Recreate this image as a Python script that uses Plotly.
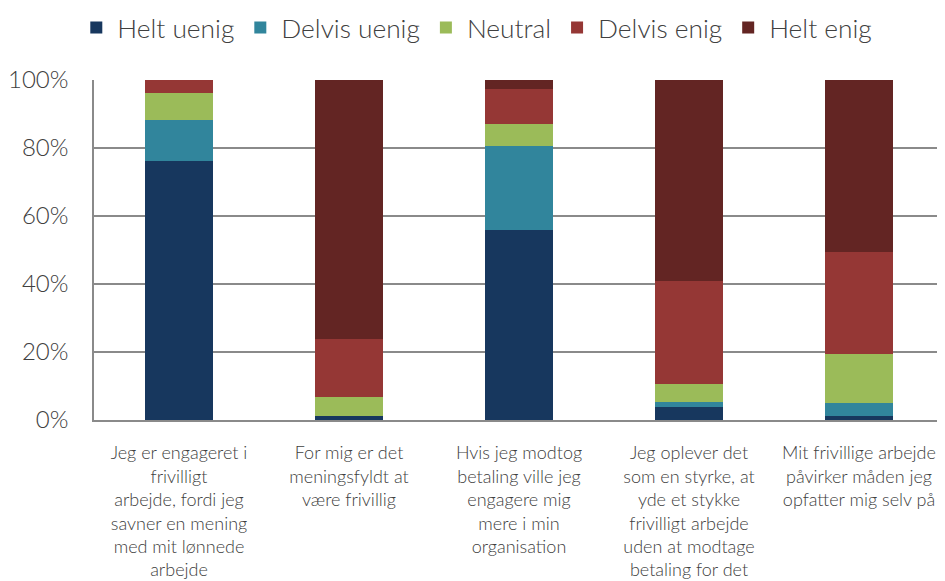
import plotly.graph_objects as go

categories = [
    "Jeg er engageret i<br>frivilligt<br>arbejde, fordi jeg<br>savner en mening<br>med mit lønnede<br>arbejde",
    "For mig er det<br>meningsfyldt at<br>være frivillig",
    "Hvis jeg modtog<br>betaling ville jeg<br>engagere mig<br>mere i min<br>organisation",
    "Jeg oplever det<br>som en styrke, at<br>yde et stykke<br>frivilligt arbejde<br>uden at modtage<br>betaling for det",
    "Mit frivillige arbejde<br>påvirker måden jeg<br>opfatter mig selv på",
]

helt_uenig = [76.2, 1.2, 55.9, 3.8, 1.2]
delvis_uenig = [11.9, 0.0, 24.6, 1.5, 3.9]
neutral = [8.0, 5.5, 6.6, 5.3, 14.4]
delvis_enig = [3.9, 17.0, 10.4, 30.2, 29.8]
helt_enig = [0.0, 76.3, 2.5, 59.2, 50.7]

series_names = ["Helt uenig", "Delvis uenig", "Neutral", "Delvis enig", "Helt enig"]
series_values = [helt_uenig, delvis_uenig, neutral, delvis_enig, helt_enig]
colors = ["#17375E", "#31859C", "#9BBB59", "#953735", "#632523"]
ytick_vals = [0, 0.2, 0.4, 0.6, 0.8, 1.0]

FONT = "Lato"
W = 300
TXT = "#404040"
GRID = "#8a8a8a"

fig = go.Figure()
for name, vals, col in zip(series_names, series_values, colors):
    fig.add_trace(go.Bar(
        x=categories, y=[v / 100 for v in vals], name=name,
        marker=dict(color=col, line=dict(width=0)),
        hoverinfo="skip",
    ))

fig.update_layout(
    barmode="stack",
    bargap=0.6,
    width=945, height=581,
    margin=dict(l=86, r=9, t=72, b=169, autoexpand=False),
    plot_bgcolor="white", paper_bgcolor="white",
    font=dict(family=FONT, color=TXT, weight=W),
    legend=dict(
        orientation="h", x=-0.022, xanchor="left", y=1.153, yanchor="middle",
        font=dict(family=FONT, size=26.3, color=TXT, weight=W),
        traceorder="normal", itemwidth=32,
    ),
    xaxis=dict(
        automargin=False,
        showgrid=False, showline=True, linecolor=GRID, linewidth=1.5,
        tickfont=dict(family=FONT, size=18, color=TXT, weight=W),
        ticks="", ticklabelstandoff=16,
    ),
    yaxis=dict(
        automargin=False,
        range=[0, 1], tickvals=ytick_vals, tickformat=".0%",
        showgrid=True, gridcolor=GRID, gridwidth=1.5,
        showline=True, linecolor=GRID, linewidth=1.5,
        tickfont=dict(family=FONT, size=24, color=TXT, weight=W),
        ticks="", ticklabelstandoff=19, zeroline=False,
    ),
)

fig.write_html("out.html")
